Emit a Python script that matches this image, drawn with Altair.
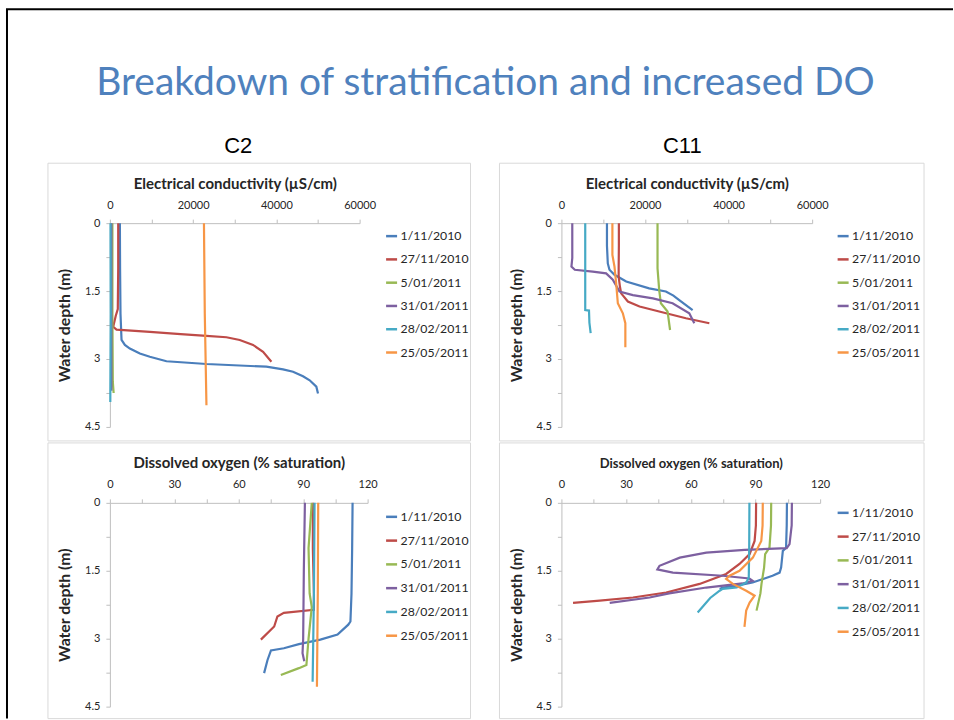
import altair as alt
import pandas as pd

TITLE = "Breakdown of stratification and increased DO"
SITE_LEFT = "C2"
SITE_RIGHT = "C11"
DATES = ["1/11/2010", "27/11/2010", "5/01/2011", "31/01/2011", "28/02/2011", "25/05/2011"]
COLORS = ["#4A7EBB", "#BE4B48", "#98B954", "#7D60A0", "#46AAC5", "#F79646"]
EC_TITLE = "Electrical conductivity (\u00b5S/cm)"
DO_TITLE = "Dissolved oxygen (% saturation)"
Y_TITLE = "Water depth (m)"

# ---- C2 electrical conductivity ----
c2ec_d1 = [0, 1.0, 2.0, 2.58, 2.69, 2.77, 2.88, 2.95, 3.05, 3.11, 3.17, 3.23, 3.28, 3.38, 3.47, 3.61, 3.76]
c2ec_v1 = [2400, 2450, 2550, 2800, 3600, 4800, 7200, 9600, 13600, 23200, 37600, 41600, 44000, 46400, 48000, 49600, 50000]
c2ec_d2 = [0, 1.0, 1.9, 2.05, 2.29, 2.35, 2.4, 2.45, 2.49, 2.52, 2.58, 2.69, 2.84, 3.06]
c2ec_v2 = [2000, 2000, 1900, 1400, 800, 1600, 9600, 17000, 23200, 28000, 31200, 34400, 36800, 38800]
c2ec_d3 = [0, 2.0, 3.5, 3.75]
c2ec_v3 = [600, 600, 700, 900]
c2ec_d4 = [0, 2.0, 3.7]
c2ec_v4 = [350, 350, 350]
c2ec_d5 = [0, 2.0, 3.95]
c2ec_v5 = [150, 200, 100]
c2ec_d6 = [0, 2.0, 4.02]
c2ec_v6 = [22600, 22800, 23200]

# ---- C11 electrical conductivity ----
c11ec_d1 = [0, 0.5, 0.89, 1.03, 1.14, 1.29, 1.44, 1.51, 1.6, 1.70, 1.92]
c11ec_v1 = [10900, 10900, 11100, 11500, 12700, 15500, 21000, 25000, 26800, 28200, 31400]
c11ec_d2 = [0, 0.5, 1.0, 1.18, 1.4, 1.55, 1.73, 1.84, 1.95, 2.10, 2.21]
c11ec_v2 = [13750, 13750, 13700, 13700, 14000, 14300, 15900, 18700, 23400, 29800, 35400]
c11ec_d3 = [0, 1.0, 1.48, 1.77, 1.95, 2.36]
c11ec_v3 = [23000, 23000, 23400, 23800, 25400, 26000]
c11ec_d4 = [0, 0.77, 0.96, 1.03, 1.07, 1.11, 1.25, 1.51, 1.59, 1.66, 1.77, 1.99, 2.21]
c11ec_v4 = [2600, 2600, 2400, 3200, 7500, 10700, 12300, 13900, 17100, 21900, 26600, 30600, 31800]
c11ec_d5 = [0, 1.92, 1.93, 2.2, 2.43]
c11ec_v5 = [5700, 5700, 6600, 6700, 7000]
c11ec_d6 = [0, 0.7, 0.96, 1.33, 1.77, 1.99, 2.21, 2.74]
c11ec_v6 = [12200, 12200, 12700, 13100, 13500, 14700, 15300, 15300]

# ---- C2 dissolved oxygen ----
c2do_d1 = [0, 1.0, 2.0, 2.62, 2.69, 2.91, 3.02, 3.12, 3.21, 3.26, 3.47, 3.76]
c2do_v1 = [113, 112.8, 112.5, 112, 111, 106, 98, 88, 81, 75, 73.4, 71.8]
c2do_d2 = [0, 1.0, 2.0, 2.36, 2.43, 2.51, 2.73, 3.02]
c2do_v2 = [94.5, 94.5, 95, 95, 81, 78, 76.5, 70.3]
c2do_d3 = [0, 1.0, 2.0, 2.3, 3.0, 3.58, 3.65, 3.8]
c2do_v3 = [94, 92.5, 93, 94, 92.5, 91.5, 88, 79.6]
c2do_d4 = [0, 1.5, 3.0, 3.32, 3.5]
c2do_v4 = [90.8, 90.3, 90, 89.7, 90.5]
c2do_d5 = [0, 2.0, 3.95]
c2do_v5 = [95.3, 95, 94.4]
c2do_d6 = [0, 2.0, 4.06]
c2do_v6 = [97, 96.8, 96.4]

# ---- C11 dissolved oxygen ----
c11do_d1 = [0, 0.5, 0.99, 1.06, 1.43, 1.54, 1.61, 1.76, 1.83, 1.87, 1.9]
c11do_v1 = [104.6, 104.5, 104.2, 102.7, 101.9, 101.2, 97.9, 88.7, 81.3, 74.8, 73.4]
c11do_d2 = [0, 0.5, 0.84, 1.13, 1.35, 1.57, 1.79, 1.98, 2.09, 2.16, 2.21]
c11do_v2 = [90.3, 90.2, 89.6, 87.3, 82.6, 76.4, 64.1, 48.6, 33.2, 17.8, 5.4]
c11do_d3 = [0, 0.5, 0.99, 1.13, 1.43, 1.79, 2.0, 2.38]
c11do_v3 = [97.3, 97.2, 96.5, 94.5, 94.0, 92.8, 92.3, 90.5]
c11do_d4 = [0, 0.5, 0.91, 1.0, 1.04, 1.1, 1.21, 1.39, 1.47, 1.54, 1.61, 1.67, 1.72, 1.78, 1.87, 2.0, 2.09, 2.21]
c11do_v4 = [106.9, 106.8, 105.8, 104.5, 85, 67.2, 54.9, 45.5, 44.5, 51.7, 74.8, 87.2, 88.7, 84, 67.2, 50, 40.9, 22.4]
c11do_d5 = [0, 1.0, 1.65, 1.76, 1.87, 1.9, 1.94, 2.1, 2.42]
c11do_v5 = [87.2, 87.1, 86.9, 85.8, 81.3, 74.8, 73.4, 69, 63.2]
c11do_d6 = [0, 0.5, 0.84, 1.21, 1.5, 1.61, 1.68, 1.79, 1.94, 2.05, 2.2, 2.38, 2.74]
c11do_v6 = [93.4, 93.3, 92.7, 88.8, 82.6, 78, 76.4, 79.5, 85.7, 89.6, 87.3, 85.7, 84.9]

FONT = "Lato"
TEXT = "#262626"
AXIS_GRAY = "#BFBFBF"


def build_df(depths, values):
    rows = []
    for date, ds, vs in zip(DATES, depths, values):
        for i, (d, v) in enumerate(zip(ds, vs)):
            rows.append({"date": date, "i": i, "depth": d, "value": v})
    return pd.DataFrame(rows)


ONE = pd.DataFrame({"k": [0]})


def panel(df, xtitle, xmax, xstep, xlab, width, frame_r, frame_b, legend_y,
          row_pad, xtitle_size=15, extra=()):
    xvals = list(range(0, xmax + 1, xstep))
    color = alt.Color(
        "date:N",
        scale=alt.Scale(domain=DATES, range=COLORS),
        legend=alt.Legend(
            title=None, orient="none", legendX=275, legendY=legend_y,
            symbolType="stroke", symbolSize=121, symbolStrokeWidth=2.5,
            labelFont=FONT, labelFontSize=12.3, labelColor=TEXT,
            rowPadding=row_pad, padding=0, labelOffset=2,
        ),
    )
    lines = alt.Chart(df).mark_line(strokeWidth=2.2).encode(
        x=alt.X(
            "value:Q",
            scale=alt.Scale(domain=[0, xmax], nice=False, zero=True),
            axis=alt.Axis(
                orient="top", title=xtitle, values=xvals, format="d",
                labelExpr=f"datum.value % {xlab} == 0 ? datum.label : ''",
                grid=False, domainColor=AXIS_GRAY, tickColor=AXIS_GRAY, tickSize=4,
                labelFont=FONT, labelFontSize=11, labelColor=TEXT, labelPadding=9,
                titleFont=FONT, titleFontSize=xtitle_size, titleFontWeight="bold",
                titleColor=TEXT, titlePadding=8, labelFlush=False, labelOverlap=False,
            ),
        ),
        y=alt.Y(
            "depth:Q",
            scale=alt.Scale(domain=[0, 4.5], reverse=True, nice=False, zero=True),
            axis=alt.Axis(
                title=Y_TITLE, values=[0, 0.75, 1.5, 2.25, 3, 3.75, 4.5], format="~g",
                labelExpr="datum.value % 1.5 == 0 ? datum.label : ''",
                grid=False, domainColor=AXIS_GRAY, tickColor=AXIS_GRAY, tickSize=4,
                labelFont=FONT, labelFontSize=11, labelColor=TEXT, labelPadding=6,
                titleFont=FONT, titleFontSize=15.8, titleFontWeight="bold",
                titleColor=TEXT, titlePadding=12, labelFlush=False, labelOverlap=False,
            ),
        ),
        color=color,
        order=alt.Order("i:Q"),
    )
    frame = alt.Chart(ONE).mark_rect(fillOpacity=0, stroke="#D9D9D9", strokeWidth=1).encode(
        x=alt.value(-62), x2=alt.value(frame_r), y=alt.value(-60), y2=alt.value(frame_b)
    )
    return alt.layer(frame, *extra, lines).properties(width=width, height=204)


# slide decorations (positions relative to the first panel's plot area)
bounds_rect = alt.Chart(ONE).mark_rect(opacity=0).encode(
    x=alt.value(-110), x2=alt.value(844), y=alt.value(-223), y2=alt.value(496)
)
border_left = alt.Chart(ONE).mark_rule(color="black", strokeWidth=2).encode(
    x=alt.value(-103), y=alt.value(-214), y2=alt.value(496)
)
border_top = alt.Chart(ONE).mark_rule(color="black", strokeWidth=2).encode(
    x=alt.value(-104), x2=alt.value(844), y=alt.value(-214)
)
title_text = alt.Chart(ONE).mark_text(
    text=TITLE, font=FONT, fontSize=39, color="#4F81BD", align="center", baseline="alphabetic"
).encode(x=alt.value(376), y=alt.value(-128))
left_label = alt.Chart(ONE).mark_text(
    text=SITE_LEFT, font="Liberation Sans", fontSize=22, color="black", align="center", baseline="alphabetic"
).encode(x=alt.value(128.5), y=alt.value(-70))
right_label = alt.Chart(ONE).mark_text(
    text=SITE_RIGHT, font="Liberation Sans", fontSize=22, color="black", align="center", baseline="alphabetic"
).encode(x=alt.value(573), y=alt.value(-70))

df1 = build_df([c2ec_d1, c2ec_d2, c2ec_d3, c2ec_d4, c2ec_d5, c2ec_d6],
               [c2ec_v1, c2ec_v2, c2ec_v3, c2ec_v4, c2ec_v5, c2ec_v6])
df2 = build_df([c11ec_d1, c11ec_d2, c11ec_d3, c11ec_d4, c11ec_d5, c11ec_d6],
               [c11ec_v1, c11ec_v2, c11ec_v3, c11ec_v4, c11ec_v5, c11ec_v6])
df3 = build_df([c2do_d1, c2do_d2, c2do_d3, c2do_d4, c2do_d5, c2do_d6],
               [c2do_v1, c2do_v2, c2do_v3, c2do_v4, c2do_v5, c2do_v6])
df4 = build_df([c11do_d1, c11do_d2, c11do_d3, c11do_d4, c11do_d5, c11do_d6],
               [c11do_v1, c11do_v2, c11do_v3, c11do_v4, c11do_v5, c11do_v6])

p1 = panel(df1, EC_TITLE, 60000, 10000, 20000, 250, 361, 218, 6, 9.3, xtitle_size=15,
           extra=(bounds_rect, border_left, border_top, title_text, left_label, right_label))
p2 = panel(df2, EC_TITLE, 60000, 10000, 20000, 251, 363, 218, 6, 9.3, xtitle_size=15)
p3 = panel(df3, DO_TITLE, 120, 15, 30, 258, 361, 216, 7, 9.8, xtitle_size=15)
p4 = panel(df4, DO_TITLE, 120, 15, 30, 259, 363, 216, 3, 9.8, xtitle_size=13)

chart = alt.concat(
    p1, p2, p3, p4, columns=2, spacing={"row": 76, "column": 194}, bounds="flush"
).resolve_scale(color="independent").properties(
    padding=0, background="white"
).configure_view(stroke=None)

chart.save("out.html", embed_options={"renderer": "svg", "actions": False})
